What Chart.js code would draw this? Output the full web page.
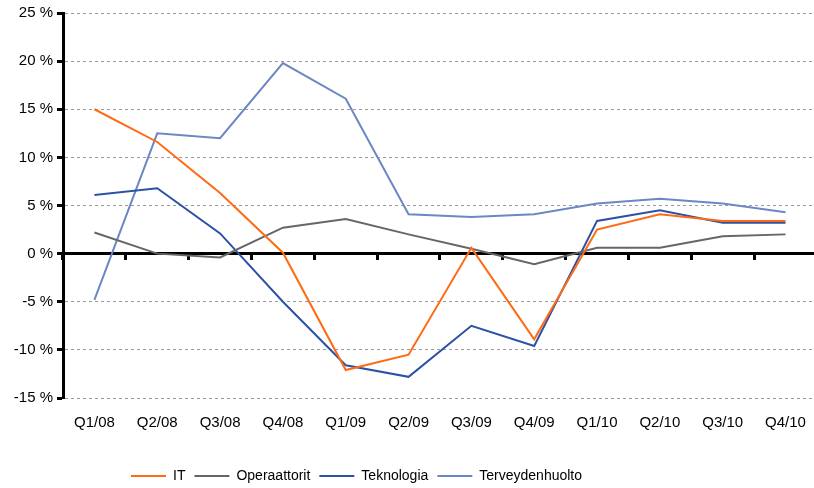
<!DOCTYPE html>
<html>
<head>
<meta charset="utf-8">
<script src="https://cdn.jsdelivr.net/npm/chart.js@4/dist/chart.umd.min.js"></script>
<style>
  html, body { margin: 0; padding: 0; background: #fff; overflow: hidden; }
</style>
</head>
<body>
<canvas id="kvartaaliChart" width="822" height="488"></canvas>
<script>
// Kvartaalit ja sarjat (% muutos)
const kvartaalit = ['Q1/08', 'Q2/08', 'Q3/08', 'Q4/08', 'Q1/09', 'Q2/09', 'Q3/09', 'Q4/09', 'Q1/10', 'Q2/10', 'Q3/10', 'Q4/10'];
const it = [15.0, 11.6, 6.3, 0.1, -12.1, -10.5, 0.6, -8.9, 2.5, 4.1, 3.4, 3.4];
const operaattorit = [2.2, 0.0, -0.4, 2.7, 3.6, 2.0, 0.5, -1.1, 0.6, 0.6, 1.8, 2.0];
const teknologia = [6.1, 6.8, 2.1, -5.0, -11.6, -12.8, -7.5, -9.6, 3.4, 4.5, 3.2, 3.2];
const terveydenhuolto = [-4.8, 12.5, 12.0, 19.8, 16.1, 4.1, 3.8, 4.1, 5.2, 5.7, 5.2, 4.3];

const fontti = "'Liberation Sans', Arial, sans-serif";

function sarja(nimi, arvot, vari) {
    return {
        label: nimi,
        data: arvot,
        borderColor: vari,
        backgroundColor: vari,
        borderWidth: 2,
        pointRadius: 0,
        tension: 0,
        xAxisID: 'x'
    };
}

// selite hieman vasemmalle ja alemmas, kuten alkuperäisessä
const selitteenPaikka = {
    id: 'selitteenPaikka',
    afterLayout: function(chart) {
        const lg = chart.legend;
        const pad = lg.options.labels.padding;
        const h = lg.height;
        lg.left = 131 - pad;
        lg.top = 476 - pad - 7;
        lg.bottom = lg.top + h;
    }
};

document.addEventListener('DOMContentLoaded', function() {
    const ctx = document.getElementById('kvartaaliChart').getContext('2d');
    new Chart(ctx, {
        type: 'line',
        data: {
            labels: kvartaalit,
            datasets: [
                sarja('IT', it, '#ff6a13'),
                sarja('Operaattorit', operaattorit, '#666666'),
                sarja('Teknologia', teknologia, '#2d51a6'),
                sarja('Terveydenhuolto', terveydenhuolto, '#6b87c4')
            ]
        },
        plugins: [selitteenPaikka],
        options: {
            responsive: false,
            animation: false,
            layout: {
                padding: { top: 8, right: 1, left: 0, bottom: 0 }
            },
            plugins: {
                legend: {
                    position: 'bottom',
                    align: 'start',
                    labels: {
                        boxWidth: 35,
                        boxHeight: 2,
                        padding: 9,
                        color: '#000',
                        font: { family: fontti, size: 14 },
                        generateLabels: function(chart) {
                            const oletus = Chart.defaults.plugins.legend.labels.generateLabels(chart);
                            return oletus.map(function(l) {
                                l.lineWidth = 0;
                                l.strokeStyle = 'rgba(0,0,0,0)';
                                return l;
                            });
                        }
                    }
                },
                tooltip: { enabled: false }
            },
            scales: {
                x: {
                    type: 'category',
                    offset: true,
                    grid: { display: false, drawTicks: false },
                    border: { display: false },
                    ticks: {
                        padding: 16,
                        color: '#000',
                        maxRotation: 0,
                        font: { family: fontti, size: 15 }
                    },
                    afterFit: function(scale) { scale.height = 57; }
                },
                x2: {
                    type: 'category',
                    offset: true,
                    position: { y: 0 },
                    grid: {
                        offset: true,
                        drawOnChartArea: false,
                        drawTicks: true,
                        tickLength: 5,
                        tickColor: '#000',
                        tickWidth: 3
                    },
                    border: { display: true, color: '#000', width: 3 },
                    ticks: { display: false }
                },
                y: {
                    min: -15,
                    max: 25,
                    ticks: {
                        stepSize: 5,
                        padding: 4,
                        color: '#000',
                        font: { family: fontti, size: 15 },
                        callback: function(value) {
                            return value + ' %';
                        }
                    },
                    grid: {
                        color: function(c) {
                            return c.tick && c.tick.value === 0 ? 'rgba(0,0,0,0)' : '#9a9a9a';
                        },
                        lineWidth: 1,
                        tickLength: 6,
                        tickColor: '#000',
                        tickWidth: 3
                    },
                    border: { display: true, color: '#000', width: 3, dash: [3, 3] },
                    afterFit: function(scale) { scale.width = 63; }
                }
            }
        }
    });
});
</script>
</body>
</html>
